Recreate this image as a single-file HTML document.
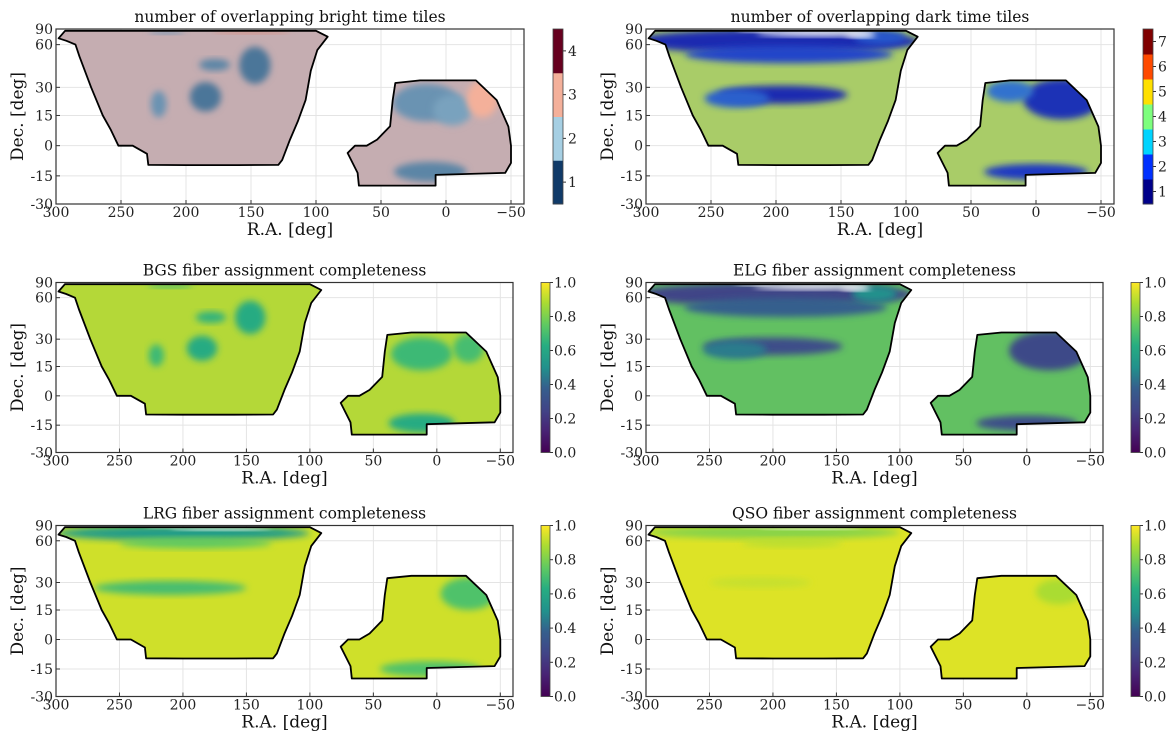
<!DOCTYPE html>
<html><head><meta charset="utf-8">
<style>
html,body{margin:0;padding:0;background:#fff;}
svg{display:block;font-family:"DejaVu Serif","Liberation Serif",serif;}
</style></head>
<body>
<svg id="fig" width="1172" height="739" viewBox="0 0 1172 739" xmlns="http://www.w3.org/2000/svg">
<defs>
<linearGradient id="viridis" x1="0" y1="1" x2="0" y2="0">
<stop offset="0" stop-color="#440154"/><stop offset="0.13" stop-color="#482475"/>
<stop offset="0.25" stop-color="#414487"/><stop offset="0.38" stop-color="#355f8d"/>
<stop offset="0.5" stop-color="#21918c"/><stop offset="0.63" stop-color="#27ad81"/>
<stop offset="0.75" stop-color="#5ec962"/><stop offset="0.88" stop-color="#aadc32"/>
<stop offset="1" stop-color="#fde725"/></linearGradient>
</defs>
</svg>
<script>
// Footprint outlines (R.A., Dec.) in degrees
const ngcRA  = [298,293,285,250,200,150,110,100,91,99,104,108,114,120,126,129,160,200,229,230,241,252,258,264,273,282,285,292];
const ngcDec = [67,80,80,80,80,80,80,80,69,55,40,23,12,3,-7,-9.5,-9.6,-9.6,-9.5,-4,0,0,8,15,30,50,60,64];
const sgcRA  = [39,20,0,-23,-39,-48,-50,-50,-45.5,8,8,30,67,68,75.7,70,61,53,43,41];
const sgcDec = [32.5,34,34,34,23,9.4,0,-8.5,-13.5,-14.5,-20,-20,-20,-13.5,-3.6,0,0,3,9.6,23];

// Panel titles
const titles = ["number of overlapping bright time tiles","number of overlapping dark time tiles",
  "BGS fiber assignment completeness","ELG fiber assignment completeness",
  "LRG fiber assignment completeness","QSO fiber assignment completeness"];
const xTicks = [300,250,200,150,100,50,0,-50];
const xTickLabels = ["300","250","200","150","100","50","0","\u221250"];
const yTicks = [90,60,30,15,0,-15,-30];
const yTickLabels = ["90","60","30","15","0","-15","-30"];
const cbTicks0 = [1,2,3,4];
const cbTicks1 = [1,2,3,4,5,6,7];
const cbTicksV = [0,0.2,0.4,0.6,0.8,1.0];
const cbTickLabelsV = ["0.0","0.2","0.4","0.6","0.8","1.0"];

// Patch data per panel: ra, dec, ra-half-width, dec-half-height, value (-1 = empty)
const p0RA=[185,178,147,221,215,15,-5,12,150,-28];
const p0Dec=[25,44,45,21,77,22,18,-13,80,24];
const p0RX=[12,12,12,6,14,26,15,28,30,12];
const p0RY=[8,4,13,7,4,10,8,5,6,10];
const p0Val=[1.4,1.5,1.4,1.6,1.6,1.6,1.7,1.5,3.2,3.0];

const p1RA=[200,190,195,230,120,-20,20,0,170,215,135];
const p1Dec=[72,52,26,24,70,24,28,-13,78,80,72];
const p1RX=[110,80,50,25,20,30,18,40,45,15,12];
const p1RY=[20,7,5,5,10,11,6,4,8,4,4];
const p1Val=[1.6,2.1,1.6,2.4,2.3,1.7,2.6,1.9,-1,-1,-1];

const p2RA=[185,178,147,221,12,12,210,-25];
const p2Dec=[25,44,45,21,22,-14,76,25];
const p2RX=[12,12,12,6,24,26,18,12];
const p2RY=[7,4,12,6,9,5,4,8];
const p2Val=[0.62,0.65,0.62,0.68,0.68,0.62,0.66,0.7];

const p3RA=[200,190,200,230,120,-18,0,170,215,135];
const p3Dec=[72,52,26,24,66,24,-14,78,80,72];
const p3RX=[110,80,55,25,18,32,40,45,15,12];
const p3RY=[20,8,5,5,10,11,4,8,4,4];
const p3Val=[0.25,0.38,0.3,0.45,0.5,0.28,0.3,-1,-1,-1];

const p4RA=[200,190,210,-25,5,170,215];
const p4Dec=[74,58,27,24,-15,80,80];
const p4RX=[100,60,60,22,40,40,15];
const p4RY=[14,5,4,9,4,6,3];
const p4Val=[0.55,0.75,0.7,0.72,0.72,-1,-1];

const p5RA=[200,185,210,-25,170,215];
const p5Dec=[74,58,30,25,80,80];
const p5RX=[100,40,40,18,40,12];
const p5RY=[12,4,3,7,5,3];
const p5Val=[0.82,0.9,0.92,0.88,-1,-1];

const svg=document.getElementById('fig');
const NS='http://www.w3.org/2000/svg';
function mk(tag,attrs,parent){const e=document.createElementNS(NS,tag);for(const k in attrs)e.setAttribute(k,attrs[k]);(parent||svg).appendChild(e);return e;}

const viridisStops=[[0,[68,1,84]],[0.13,[72,36,117]],[0.25,[65,68,135]],[0.38,[53,95,141]],[0.5,[33,145,140]],[0.63,[39,173,129]],[0.75,[94,201,98]],[0.88,[170,220,50]],[1,[253,231,37]]];
function interp(stops,v){if(v<=stops[0][0])return stops[0][1];for(let i=1;i<stops.length;i++){if(v<=stops[i][0]){const a=stops[i-1],b=stops[i],t=(v-a[0])/(b[0]-a[0]);return a[1].map((c,j)=>Math.round(c+(b[1][j]-c)*t));}}return stops[stops.length-1][1];}
function rgb(c){return 'rgb('+c.join(',')+')';}
const rdbu=[[1,[16,58,104]],[2,[166,207,227]],[3,[244,176,154]],[4,[103,0,31]]];
const jet=[[1,[0,0,138]],[2,[0,48,255]],[3,[0,212,255]],[4,[125,255,125]],[5,[255,224,0]],[6,[255,74,0]],[7,[128,0,0]]];
const jetMuted=[[1,[20,20,140]],[2,[30,60,200]],[3,[60,150,210]],[4,[140,210,120]]];
const cmaps=[v=>rgb(interp(rdbu,v)),v=>rgb(interp(jetMuted,v)),v=>rgb(interp(viridisStops,v)),v=>rgb(interp(viridisStops,v)),v=>rgb(interp(viridisStops,v)),v=>rgb(interp(viridisStops,v))];
const cbColors=[v=>rgb(interp(rdbu,v)),v=>rgb(interp(jet,v))];
const baseColors=["#c5adb1","#a9cc68","#b4d838","#62c062","#cfe02a","#dde326"];
const patches=[[p0RA,p0Dec,p0RX,p0RY,p0Val],[p1RA,p1Dec,p1RX,p1RY,p1Val],[p2RA,p2Dec,p2RX,p2RY,p2Val],[p3RA,p3Dec,p3RX,p3RY,p3Val],[p4RA,p4Dec,p4RX,p4RY,p4Val],[p5RA,p5Dec,p5RX,p5RY,p5Val]];

const f=mk('filter',{id:'blur',x:'-30%',y:'-30%',width:'160%',height:'160%'},svg.querySelector('defs'));
mk('feGaussianBlur',{stdDeviation:3.5},f);

const rowTop=[29,282.5,525.5], rowH=[175,170,171];
for(let p=0;p<6;p++){
  const r=Math.floor(p/2), c=p%2;
  const L=56+590*c, T=rowTop[r], H=rowH[r], W=(r===0?468:457);
  const xs=ra=>L+(300-ra)/360*W;
  const ys=dec=>T+H*(1-Math.sin(dec*Math.PI/180))/1.5;
  const g=mk('g',{});
  
  
  xTicks.forEach(t=>{const l=mk('line',{x1:xs(t),x2:xs(t),y1:T,y2:T+H,stroke:'#e4e4e4','stroke-width':1},g);});
  yTicks.forEach(t=>{const l=mk('line',{x1:L,x2:L+W,y1:ys(t),y2:ys(t),stroke:'#e4e4e4','stroke-width':1},g);});
  const cid='clip'+p;
  const cp=mk('clipPath',{id:cid},g);
  const ngcPts=ngcRA.map((ra,i)=>xs(ra).toFixed(1)+','+ys(ngcDec[i]).toFixed(1)).join(' ');
  const sgcPts=sgcRA.map((ra,i)=>xs(ra).toFixed(1)+','+ys(sgcDec[i]).toFixed(1)).join(' ');
  mk('polygon',{points:ngcPts},cp);mk('polygon',{points:sgcPts},cp);
  const mg=mk('g',{'clip-path':'url(#'+cid+')'},g);
  
  
  mk('rect',{x:L,y:T,width:W,height:H,fill:baseColors[p]},mg);
  const [pr,pd,prx,pry,pv]=patches[p];
  for(let i=0;i<pr.length;i++){
    const x0=xs(pr[i]+prx[i]),x1=xs(pr[i]-prx[i]);
    const y0=ys(Math.min(90,pd[i]+pry[i])),y1=ys(pd[i]-pry[i]);
    const e=mk('ellipse',{cx:(x0+x1)/2,cy:(y0+y1)/2,rx:Math.abs(x1-x0)/2,ry:Math.abs(y1-y0)/2,fill:pv[i]<0?'#ffffff':cmaps[p](pv[i]),filter:'url(#blur)'},mg);
    
    
  }
  const o1=mk('polygon',{points:ngcPts,fill:'none',stroke:'#000','stroke-width':1.8,'stroke-linejoin':'round'},g);
  
  const o2=mk('polygon',{points:sgcPts,fill:'none',stroke:'#000','stroke-width':1.8,'stroke-linejoin':'round'},g);
  
  const fr=mk('rect',{x:L,y:T,width:W,height:H,fill:'none',stroke:'#333','stroke-width':1.2},g);
  
  xTicks.forEach((t,i)=>{mk('line',{x1:xs(t),x2:xs(t),y1:T+H,y2:T+H-4,stroke:'#333'},g);
    const tx=mk('text',{x:xs(t),y:T+H+13,'font-size':14,'text-anchor':'middle',fill:'#222'},g);tx.textContent=xTickLabels[i];
    });
  yTicks.forEach((t,i)=>{mk('line',{x1:L,x2:L+4,y1:ys(t),y2:ys(t),stroke:'#333'},g);
    const tx=mk('text',{x:L-3,y:ys(t)+5,'font-size':14,'text-anchor':'end',fill:'#222'},g);tx.textContent=yTickLabels[i];
    });
  const ti=mk('text',{x:L+W/2,y:T-7,'font-size':15.5,'text-anchor':'middle',fill:'#111'},g);ti.textContent=titles[p];
  
  const xl=mk('text',{x:L+W/2,y:T+H+31,'font-size':17,'text-anchor':'middle',fill:'#111'},g);xl.textContent='R.A. [deg]';
  
  const yl=mk('text',{x:0,y:0,'font-size':17,'text-anchor':'middle',fill:'#111',transform:'translate('+(L-33)+','+(T+H/2)+') rotate(-90)'},g);yl.textContent='Dec. [deg]';
  
  const cb=mk('g',{},g);
  
  
  const cx=(r===0?553:541)+590*c, cw=(r===0?10:9);
  if(p<2){
    const ticks=p===0?cbTicks0:cbTicks1, n=ticks.length, bh=H/n;
    ticks.forEach((t,i)=>{mk('rect',{x:cx,y:T+H-(i+1)*bh,width:cw,height:bh+0.5,fill:cbColors[p](t)},cb);
      const yy=T+H-(i+0.5)*bh;mk('line',{x1:cx+cw,x2:cx+cw+3,y1:yy,y2:yy,stroke:'#333'},cb);
      const tx=mk('text',{x:cx+cw+5,y:yy+5,'font-size':14,fill:'#222'},cb);tx.textContent=String(t);
      });
  } else {
    mk('rect',{x:cx,y:T,width:cw,height:H,fill:'url(#viridis)'},cb);
    cbTicksV.forEach((t,i)=>{const yy=T+H-t*H;mk('line',{x1:cx+cw,x2:cx+cw+3,y1:yy,y2:yy,stroke:'#333'},cb);
      const tx=mk('text',{x:cx+cw+4,y:yy+5,'font-size':14,fill:'#222'},cb);tx.textContent=cbTickLabelsV[i];
      });
  }
  mk('rect',{x:cx,y:T,width:cw,height:H,fill:'none',stroke:'#444','stroke-width':0.8},cb);
}
</script>
</body></html>
